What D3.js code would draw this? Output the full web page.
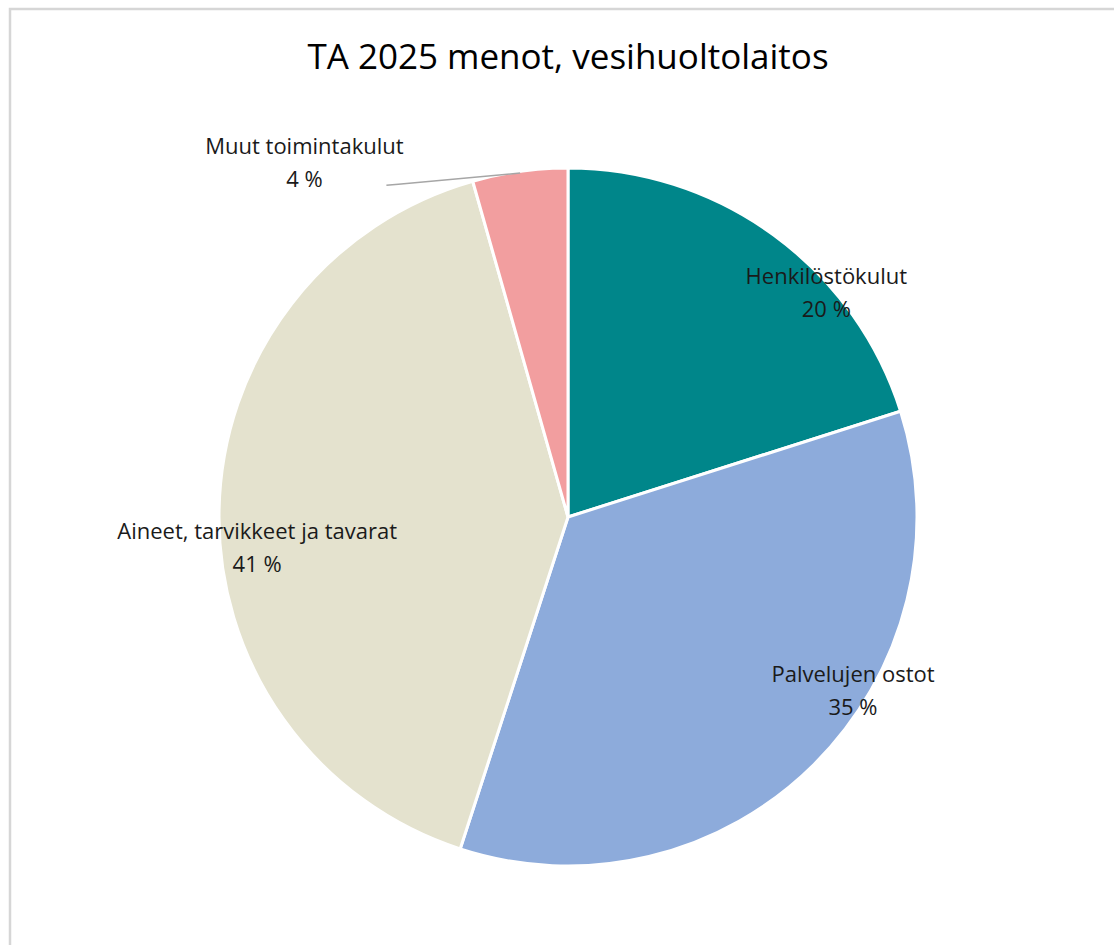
<!DOCTYPE html>
<html>
<head>
<meta charset="utf-8">
<script src="https://cdn.jsdelivr.net/npm/d3@7"></script>
<style>
  body { margin: 0; background: #fff; }
  svg { display: block; font-family: "Open Sans", "Noto Sans", sans-serif; }
</style>
</head>
<body>
<div id="chart"></div>
<script>
// data
var categories = ["Henkilöstökulut", "Palvelujen ostot", "Aineet, tarvikkeet ja tavarat", "Muut toimintakulut"];
var values = [20.1, 34.9, 40.6, 4.4];
var percentLabels = ["20 %", "35 %", "41 %", "4 %"];
var colors = ["#00868A", "#8DABDB", "#E4E2CE", "#F29E9F"];

// label placement: angle (deg, clockwise from top) and distance as fraction of radius
var labelAngle = [48, 120, 266, 324];
var labelDist = [0.996, 0.943, 0.893, 1.285];

var width = 1114, height = 945;
var cx = 568, cy = 517, radius = 349;

var svg = d3.select("#chart").append("svg")
    .attr("width", width)
    .attr("height", height);

// chart frame
svg.append("rect")
    .attr("x", 10)
    .attr("y", 9)
    .attr("width", 1300)
    .attr("height", 1200)
    .attr("fill", "#fff")
    .attr("stroke", "#d6d6d6")
    .attr("stroke-width", 2.5);

// title
svg.append("text")
    .attr("x", cx)
    .attr("y", 69)
    .attr("text-anchor", "middle")
    .attr("font-size", 35)
    .attr("fill", "#000")
    .text("TA 2025 menot, vesihuoltolaitos");

var data = categories.map(function(c, i) {
  return {name: c, value: values[i], label: percentLabels[i], color: colors[i], i: i};
});

var pie = d3.pie()
    .sort(null)
    .value(function(d) { return d.value; });

var arc = d3.arc()
    .innerRadius(0)
    .outerRadius(radius);

var g = svg.append("g")
    .attr("transform", "translate(" + cx + "," + cy + ")");

var arcs = pie(data);

g.selectAll("path.slice")
    .data(arcs)
  .enter().append("path")
    .attr("class", "slice")
    .attr("d", arc)
    .attr("fill", function(d) { return d.data.color; })
    .attr("stroke", "#fff")
    .attr("stroke-width", 3)
    .attr("stroke-linejoin", "round");

function polar(angleDeg, r) {
  var a = angleDeg * Math.PI / 180;
  return [r * Math.sin(a), -r * Math.cos(a)];
}

// labels
var labels = g.selectAll("g.label")
    .data(arcs)
  .enter().append("g")
    .attr("class", "label")
    .attr("transform", function(d) {
      var p = polar(labelAngle[d.data.i], labelDist[d.data.i] * radius);
      return "translate(" + p[0] + "," + p[1] + ")";
    });

labels.append("text")
    .attr("text-anchor", "middle")
    .attr("font-size", 22)
    .attr("fill", "#1a1a1a")
    .text(function(d) { return d.data.name; });

labels.append("text")
    .attr("text-anchor", "middle")
    .attr("y", 33)
    .attr("font-size", 22)
    .attr("fill", "#1a1a1a")
    .text(function(d) { return d.data.label; });

// leader line for the small slice
var small = arcs[3];
var mid = (small.startAngle + small.endAngle) / 2 * 180 / Math.PI;
var pEdge = polar(mid, radius * 0.995);
var pLab = polar(labelAngle[3], labelDist[3] * radius);
var line = d3.line();
g.append("path")
    .attr("d", line([pEdge, [pLab[0] + 94, pLab[1] + 30], [pLab[0] + 82, pLab[1] + 31]]))
    .attr("fill", "none")
    .attr("stroke", "#a6a6a6")
    .attr("stroke-width", 1.5);
</script>
</body>
</html>
